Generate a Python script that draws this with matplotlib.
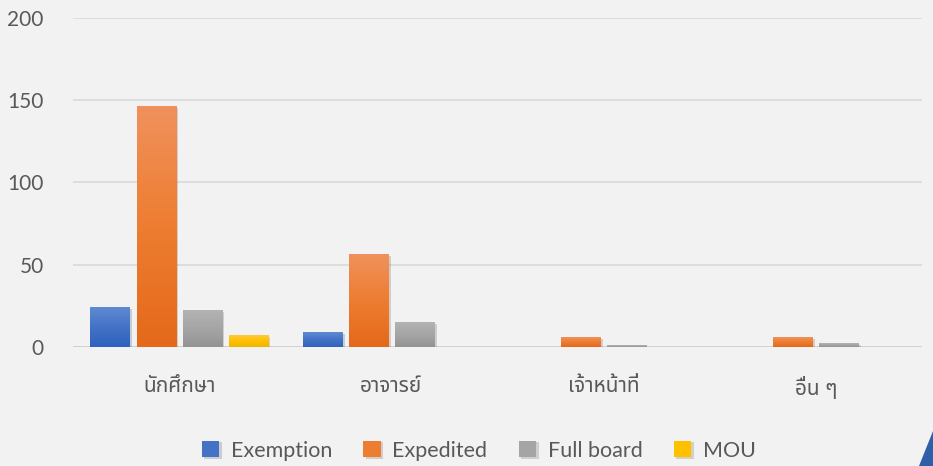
import matplotlib
matplotlib.use("Agg")
import matplotlib.pyplot as plt
import matplotlib.patheffects as pe
from matplotlib.colors import LinearSegmentedColormap
import numpy as np

plt.rcParams['font.family'] = ['Lato', 'Noto Sans Thai', 'DejaVu Sans']

categories = ['นักศึกษา', 'อาจารย์', 'เจ้าหน้าที่', 'อื่น ๆ']
series = ['Exemption', 'Expedited', 'Full board', 'MOU']
exemption = [24, 9, 0, 0]
expedited = [146, 56, 6, 6]
full_board = [22, 15, 1, 2]
mou = [7, 0, 0, 0]
values = [exemption, expedited, full_board, mou]
yticks = [0, 50, 100, 150, 200]

colors = ['#4472c4', '#ed7d31', '#a5a5a5', '#ffc000']
# top / bottom shades for the gradient fill
grads = [('#5f8ad3', '#2d62c0'), ('#f0915c', '#e5691a'),
         ('#b3b3b3', '#939393'), ('#ffca3a', '#f2b500')]

bg = '#f2f2f2'
txt = '#595959'

fig = plt.figure(figsize=(9.33, 4.66), dpi=100, facecolor=bg)
ax = fig.add_axes([0.0782, 0.2554, 0.910, 0.706], facecolor=bg)

x = np.arange(len(categories))
step = 0.217
width = 0.184
containers = []
for i, (name, vals) in enumerate(zip(series, values)):
    bc = ax.bar(x + (i - 1.5) * step, vals, width, color=colors[i], label=name, zorder=3,
                path_effects=[pe.SimplePatchShadow(offset=(2, -1), alpha=0.18), pe.Normal()])
    containers.append(bc)
    cmap = LinearSegmentedColormap.from_list('g%d' % i, [grads[i][1], colors[i], grads[i][0]])
    for p in bc.patches:
        if p.get_height() <= 0:
            continue
        x0, w, h = p.get_x(), p.get_width(), p.get_height()
        ax.imshow(np.linspace(0, 1, 100).reshape(-1, 1), cmap=cmap, origin='lower',
                  extent=[x0, x0 + w, 0, h], aspect='auto', zorder=4)

ax.set_xlim(-0.5, len(categories) - 0.5)
ax.set_ylim(0, 200)
ax.set_yticks(yticks)
ax.set_xticks(x)
ax.set_xticklabels(categories)
ax.tick_params(axis='both', length=0, colors=txt, labelsize=15)
ax.tick_params(axis='y', pad=21)
ax.tick_params(axis='x', pad=21)
for s in ax.spines.values():
    s.set_visible(False)
ax.yaxis.grid(True, color='#d9d9d9', linewidth=1.2, zorder=0)
ax.axhline(0, color='#d0d0d0', linewidth=2, zorder=2)

handles = [c.patches[0] for c in containers]
leg = fig.legend(handles, series, loc='lower center', bbox_to_anchor=(0.513, -0.03), ncol=4,
                 frameon=False, fontsize=15.5, handlelength=0.8, handleheight=0.8,
                 handletextpad=0.55, columnspacing=1.45)
for t in leg.get_texts():
    t.set_color(txt)

# corner decoration of the slide
fig.patches.append(plt.Polygon([[0.985, 0], [1, 0], [1, 0.075]], closed=True,
                               transform=fig.transFigure, facecolor='#2e5fa8', edgecolor='none'))

fig.savefig('out.png', dpi=100, facecolor=bg)
